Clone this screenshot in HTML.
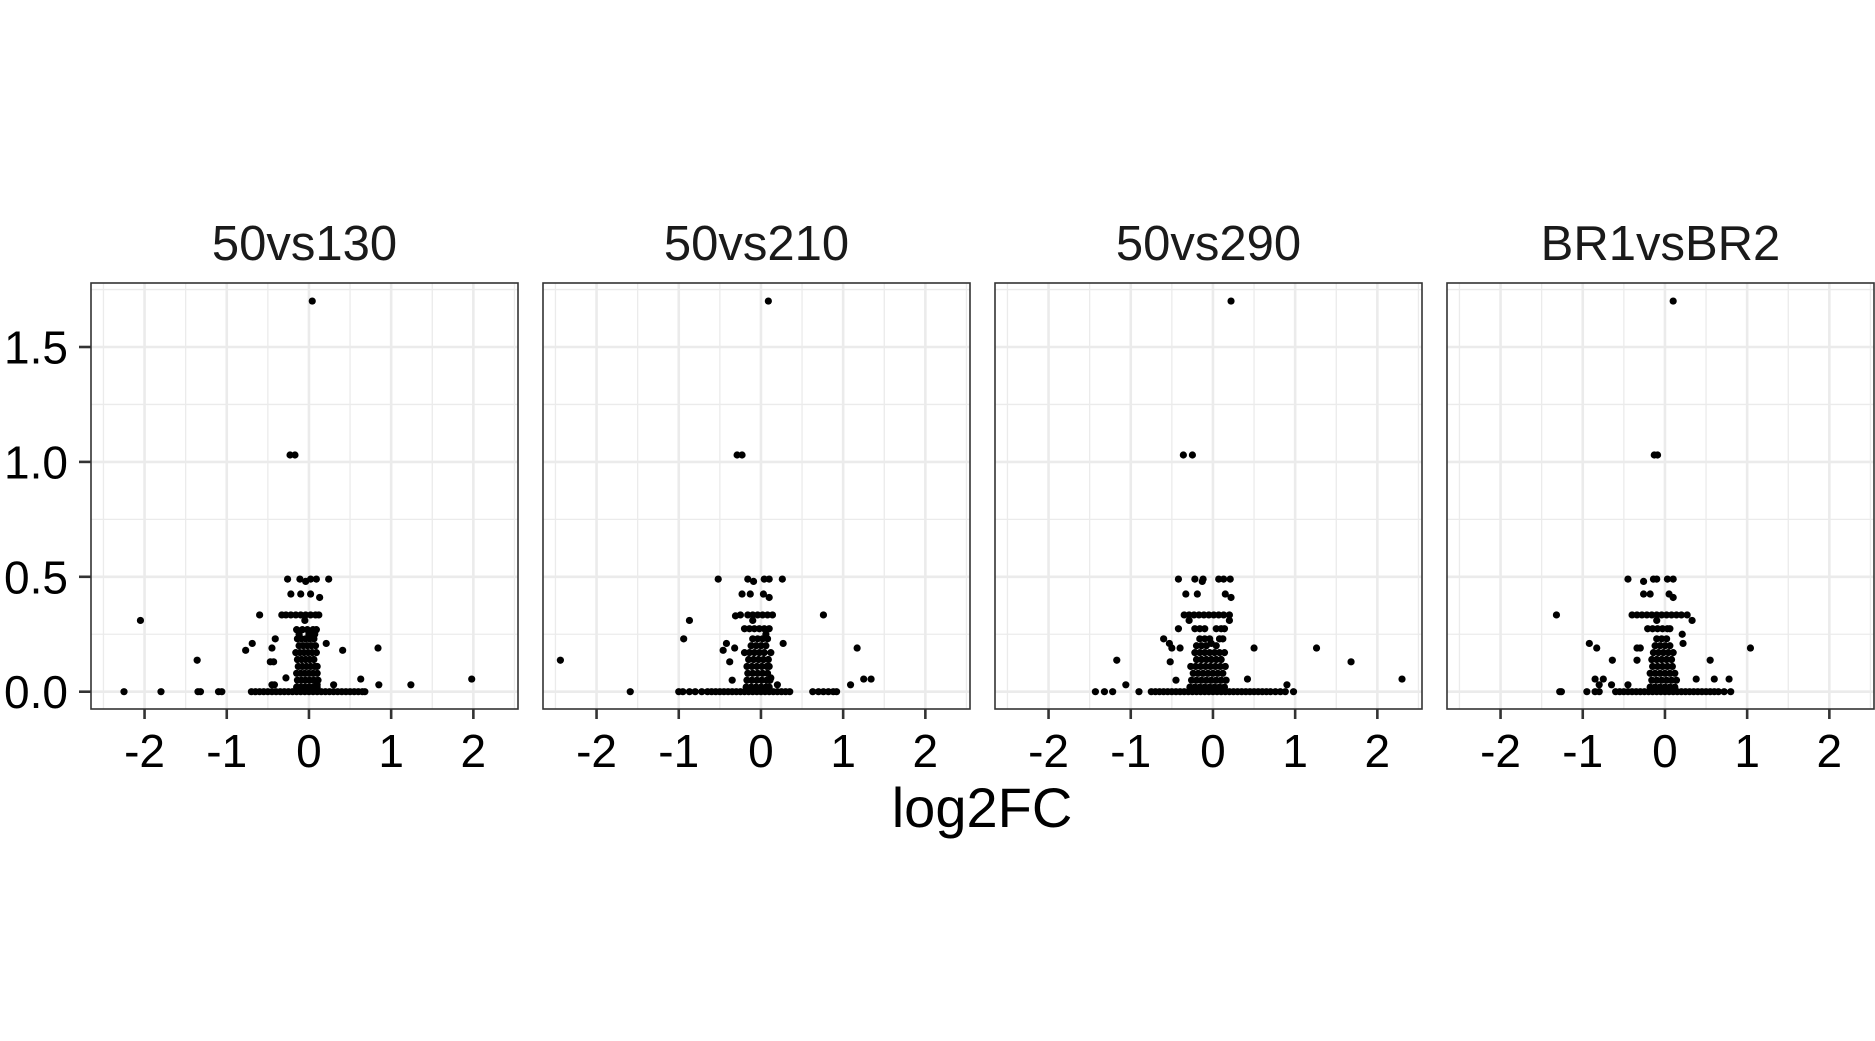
<!DOCTYPE html>
<html><head><meta charset="utf-8"><style>
html,body{margin:0;padding:0;background:#fff;}
svg{display:block;}
text{font-family:"Liberation Sans",Arial,sans-serif;}
</style></head>
<body>
<svg id="chart" width="1875" height="1041" viewBox="0 0 1875 1041" xmlns="http://www.w3.org/2000/svg">
<rect x="0" y="0" width="1875" height="1041" fill="#fff"/>
<text x="982" y="827" font-size="56" text-anchor="middle" fill="#000">log2FC</text>
</svg>
<script>
const facetLabels = ["50vs130","50vs210","50vs290","BR1vsBR2"];
const xTicks = [-2,-1,0,1,2];
const xTickLabels = ["-2","-1","0","1","2"];
const yTicks = [0,0.5,1,1.5];
const yTickLabels = ["0.0","0.5","1.0","1.5"];
const xMinor = [-2.5,-1.5,-0.5,0.5,1.5,2.5];
const yMinor = [0.25,0.75,1.25,1.75];

const pts50vs130 = [
[0.04,1.70],[-0.23,1.03],[-0.17,1.03],
[-0.26,0.49],[-0.11,0.49],[-0.04,0.48],[0.02,0.49],[0.09,0.49],[0.24,0.49],
[-0.22,0.425],[-0.10,0.425],[0.02,0.425],[0.13,0.41],
[-0.60,0.334],[-0.33,0.334],[-0.28,0.334],[-0.22,0.334],[-0.16,0.334],[-0.10,0.334],[-0.04,0.334],[0.02,0.334],[0.08,0.334],[0.12,0.334],[-0.05,0.31],
[-2.05,0.31],
[-0.15,0.27],[-0.08,0.27],[-0.02,0.27],[0.05,0.27],[0.09,0.27],[-0.12,0.25],[0.0,0.25],[0.07,0.25],
[-0.41,0.23],[-0.69,0.21],[-0.77,0.18],[-0.45,0.19],[0.21,0.21],[0.41,0.18],[0.84,0.19],[-1.36,0.137],[-0.43,0.13],[-0.47,0.13],
[-2.25,0],[-1.8,0],[-1.35,0],[-1.32,0],[-1.1,0],[-1.06,0],
[-0.70,0],[-0.65,0],[-0.6,0],[-0.55,0],[-0.5,0],[-0.45,0],[-0.4,0],[-0.35,0],[-0.3,0],[-0.25,0],[-0.2,0],[-0.15,0],[-0.1,0],[-0.05,0],[0,0],[0.05,0],[0.1,0],[0.15,0],[0.2,0],[0.25,0],[0.3,0],[0.35,0],[0.4,0],[0.45,0],[0.5,0],[0.55,0],[0.6,0],[0.65,0],[0.68,0],
[0.63,0.055],[0.85,0.03],[1.24,0.03],[1.98,0.055],[-0.45,0.03],[-0.42,0.03],[-0.28,0.06],[0.1,0.03],[0.3,0.03],
[-0.15,0.02],[-0.1,0.02],[-0.05,0.02],[0,0.02],[0.05,0.02],[0.1,0.02],
[-0.14,0.05],[-0.09,0.05],[-0.04,0.05],[0.01,0.05],[0.06,0.05],[0.11,0.05],
[-0.15,0.08],[-0.1,0.08],[-0.05,0.08],[0,0.08],[0.05,0.08],[0.1,0.08],
[-0.13,0.11],[-0.08,0.11],[-0.03,0.11],[0.02,0.11],[0.07,0.11],[0.1,0.11],
[-0.14,0.14],[-0.09,0.14],[-0.04,0.14],[0.01,0.14],[0.06,0.14],
[-0.16,0.17],[-0.11,0.17],[-0.06,0.17],[-0.01,0.17],[0.04,0.17],[0.09,0.17],
[-0.12,0.20],[-0.07,0.20],[-0.02,0.20],[0.03,0.20],[0.08,0.20],
[-0.14,0.23],[-0.09,0.23],[-0.04,0.23],[0.01,0.23],[0.06,0.23]
];
const pts50vs210 = [
[0.09,1.70],[-0.29,1.03],[-0.23,1.03],
[-0.52,0.49],[-0.16,0.49],[-0.09,0.48],[0.04,0.49],[0.10,0.49],[0.26,0.49],
[-0.23,0.425],[-0.13,0.425],[0.03,0.425],[0.10,0.41],
[-0.31,0.33],[-0.25,0.334],[-0.16,0.334],[-0.10,0.334],[-0.04,0.334],[0.02,0.334],[0.08,0.334],[0.14,0.334],[-0.1,0.31],[0.76,0.334],
[-0.87,0.31],
[-0.2,0.274],[-0.14,0.274],[-0.08,0.274],[-0.02,0.274],[0.04,0.274],[0.1,0.274],[0.06,0.25],
[-0.94,0.23],[-0.42,0.21],[-0.32,0.19],[-0.46,0.18],[0.27,0.21],[1.17,0.19],[-2.44,0.137],[-0.38,0.13],
[-1.59,0],[-1.0,0],[-0.95,0],[-0.87,0],[-0.8,0],
[-0.72,0],[-0.65,0],[-0.6,0],[-0.55,0],[-0.5,0],[-0.45,0],[-0.4,0],[-0.35,0],[-0.3,0],[-0.25,0],[-0.2,0],[-0.15,0],[-0.1,0],[-0.05,0],[0,0],[0.05,0],[0.1,0],[0.15,0],[0.2,0],[0.25,0],[0.3,0],[0.35,0],
[0.63,0],[0.7,0],[0.76,0],[0.82,0],[0.88,0],[0.92,0],
[1.09,0.03],[1.25,0.055],[1.34,0.055],[0.2,0.03],[-0.35,0.05],[0.12,0.06],
[-0.18,0.02],[-0.12,0.02],[-0.06,0.02],[0,0.02],[0.06,0.02],[0.1,0.02],
[-0.17,0.05],[-0.11,0.05],[-0.05,0.05],[0.01,0.05],[0.07,0.05],[0.11,0.05],
[-0.16,0.08],[-0.1,0.08],[-0.04,0.08],[0.02,0.08],[0.08,0.08],
[-0.17,0.11],[-0.11,0.11],[-0.05,0.11],[0.01,0.11],[0.07,0.11],[0.1,0.11],
[-0.15,0.14],[-0.09,0.14],[-0.03,0.14],[0.03,0.14],[0.09,0.14],
[-0.2,0.17],[-0.14,0.17],[-0.08,0.17],[-0.02,0.17],[0.04,0.17],[0.12,0.17],
[-0.12,0.20],[-0.06,0.20],[0,0.20],[0.06,0.20],
[-0.1,0.23],[-0.04,0.23],[0.02,0.23],[0.08,0.23]
];
const pts50vs290 = [
[0.22,1.70],[-0.36,1.03],[-0.25,1.03],
[-0.42,0.49],[-0.22,0.49],[-0.13,0.48],[-0.12,0.49],[0.07,0.49],[0.13,0.49],[0.21,0.49],
[-0.33,0.425],[-0.19,0.425],[0.15,0.425],[0.22,0.41],
[-0.35,0.334],[-0.29,0.334],[-0.23,0.334],[-0.17,0.334],[-0.11,0.334],[-0.05,0.334],[0.01,0.334],[0.07,0.334],[0.13,0.334],[0.2,0.334],[-0.29,0.31],[0.2,0.31],
[-0.42,0.274],[-0.22,0.274],[-0.16,0.274],[-0.1,0.274],[0.04,0.274],[0.1,0.274],[0.14,0.274],
[-0.6,0.23],[0.12,0.23],[-0.53,0.21],[-0.50,0.19],[-0.40,0.19],[0.50,0.19],[1.26,0.19],[-1.17,0.137],[-0.52,0.13],[1.68,0.13],
[-1.43,0],[-1.32,0],[-1.22,0],[-1.06,0.03],[-0.9,0],
[-0.75,0],[-0.7,0],[-0.65,0],[-0.6,0],[-0.55,0],[-0.5,0],[-0.45,0],[-0.4,0],[-0.35,0],[-0.3,0],[-0.25,0],[-0.2,0],[-0.15,0],[-0.1,0],[-0.05,0],[0,0],[0.05,0],[0.1,0],[0.15,0],[0.2,0],[0.25,0],[0.3,0],[0.35,0],[0.4,0],[0.45,0],[0.5,0],[0.55,0],[0.6,0],[0.65,0],
[0.7,0],[0.76,0],[0.82,0],[0.88,0],[0.98,0],[0.9,0.03],[2.3,0.055],[0.42,0.055],[-0.45,0.05],
[-0.28,0.02],[-0.22,0.02],[-0.16,0.02],[-0.1,0.02],[-0.04,0.02],[0.02,0.02],[0.08,0.02],[0.14,0.02],
[-0.26,0.05],[-0.2,0.05],[-0.14,0.05],[-0.08,0.05],[-0.02,0.05],[0.04,0.05],[0.1,0.05],[0.16,0.05],
[-0.24,0.08],[-0.18,0.08],[-0.12,0.08],[-0.06,0.08],[0,0.08],[0.06,0.08],[0.12,0.08],
[-0.27,0.11],[-0.21,0.11],[-0.15,0.11],[-0.09,0.11],[-0.03,0.11],[0.03,0.11],[0.09,0.11],[0.15,0.11],
[-0.2,0.14],[-0.14,0.14],[-0.08,0.14],[-0.02,0.14],[0.04,0.14],[0.1,0.14],
[-0.22,0.17],[-0.16,0.17],[-0.1,0.17],[-0.04,0.17],[0.02,0.17],[0.08,0.17],[0.14,0.17],
[-0.2,0.20],[-0.14,0.20],[-0.08,0.20],[-0.02,0.21],[0.04,0.20],
[-0.16,0.23],[-0.1,0.23],[-0.04,0.23],[0.08,0.23]
];
const ptsBR1vsBR2 = [
[0.10,1.70],[-0.13,1.03],[-0.09,1.03],
[-0.45,0.49],[-0.26,0.48],[-0.14,0.49],[-0.10,0.49],[0.03,0.49],[0.10,0.49],
[-0.26,0.425],[-0.18,0.425],[0.05,0.425],[0.10,0.41],
[-1.32,0.334],[-0.40,0.334],[-0.34,0.334],[-0.28,0.334],[-0.22,0.334],[-0.16,0.334],[-0.1,0.334],[-0.04,0.334],[0.02,0.334],[0.08,0.334],[0.14,0.334],[0.2,0.334],[0.27,0.334],[-0.1,0.31],[0.33,0.31],
[-0.21,0.274],[-0.15,0.274],[-0.09,0.274],[-0.03,0.274],[0.03,0.274],[0.06,0.274],[0.21,0.25],
[-0.92,0.21],[-0.83,0.19],[-0.34,0.19],[-0.30,0.19],[0.22,0.21],[1.04,0.19],
[-0.64,0.137],[-0.34,0.137],[0.55,0.137],
[-1.28,0],[-1.26,0],[-0.95,0],[-0.85,0],[-0.8,0],
[-0.6,0],[-0.55,0],[-0.5,0],[-0.45,0],[-0.4,0],[-0.35,0],[-0.3,0],[-0.25,0],[-0.2,0],[-0.15,0],[-0.1,0],[-0.05,0],[0,0],[0.05,0],[0.1,0],[0.15,0],[0.2,0],[0.25,0],[0.3,0],[0.35,0],[0.4,0],[0.45,0],[0.5,0],[0.55,0],[0.6,0],
[0.65,0],[0.72,0],[0.8,0],
[-0.85,0.055],[-0.75,0.055],[-0.65,0.03],[-0.8,0.03],[0.38,0.055],[0.6,0.055],[0.78,0.055],[-0.45,0.03],
[-0.18,0.02],[-0.12,0.02],[-0.06,0.02],[0,0.02],[0.06,0.02],[0.12,0.02],
[-0.16,0.05],[-0.1,0.05],[-0.04,0.05],[0.02,0.05],[0.08,0.05],[0.14,0.05],
[-0.18,0.08],[-0.12,0.08],[-0.06,0.08],[0,0.08],[0.06,0.08],[0.12,0.08],
[-0.15,0.11],[-0.09,0.11],[-0.03,0.11],[0.03,0.11],[0.09,0.11],
[-0.16,0.14],[-0.1,0.14],[-0.04,0.14],[0.02,0.14],[0.08,0.14],
[-0.14,0.17],[-0.08,0.17],[-0.02,0.17],[0.04,0.17],[0.1,0.17],
[-0.12,0.20],[-0.06,0.20],[0,0.20],[0.06,0.20],
[-0.1,0.23],[-0.04,0.23],[0.02,0.23]
];
const facetData = [pts50vs130, pts50vs210, pts50vs290, ptsBR1vsBR2];

const NS = "http://www.w3.org/2000/svg";
const svg = document.getElementById("chart");
const panelW = 427, panelGap = 25, panelLeft0 = 91, panelTop = 283, panelBottom = 709;
const xDomain = [-2.6515, 2.5431];
const yDomain = [-0.0753, 1.7785];
function xScale(i, v){ const l = panelLeft0 + i*(panelW+panelGap); return l + (v - xDomain[0])/(xDomain[1]-xDomain[0])*panelW; }
function yScale(v){ return panelBottom - (v - yDomain[0])/(yDomain[1]-yDomain[0])*(panelBottom-panelTop); }
function mk(tag, attrs, parent){ const e = document.createElementNS(NS, tag); for (const k in attrs) e.setAttribute(k, attrs[k]); (parent||svg).appendChild(e); return e; }

facetLabels.forEach((lab, i) => {
  const left = panelLeft0 + i*(panelW+panelGap);
  const g = mk("g", {});
  
  
  const bg = mk("rect", {x:left, y:panelTop, width:panelW, height:panelBottom-panelTop, fill:"#fff"}, g);
  
  
  xMinor.forEach(v => {
    const ln = mk("line", {x1:xScale(i,v), x2:xScale(i,v), y1:panelTop, y2:panelBottom, stroke:"#ebebeb", "stroke-width":1.3}, g);
    
    
  });
  yMinor.forEach(v => {
    const ln = mk("line", {x1:left, x2:left+panelW, y1:yScale(v), y2:yScale(v), stroke:"#ebebeb", "stroke-width":1.3}, g);
    
    
  });
  xTicks.forEach(v => {
    const ln = mk("line", {x1:xScale(i,v), x2:xScale(i,v), y1:panelTop, y2:panelBottom, stroke:"#ebebeb", "stroke-width":2.6}, g);
    
    
  });
  yTicks.forEach(v => {
    const ln = mk("line", {x1:left, x2:left+panelW, y1:yScale(v), y2:yScale(v), stroke:"#ebebeb", "stroke-width":2.6}, g);
    
    
  });
  facetData[i].forEach(p => {
    const c = mk("circle", {cx:xScale(i,p[0]), cy:yScale(p[1]), r:3.6, fill:"#000"}, g);
    
    
  });
  const border = mk("rect", {x:left, y:panelTop, width:panelW, height:panelBottom-panelTop, fill:"none", stroke:"#333", "stroke-width":1.6}, g);
  
  
  const t = mk("text", {x:left+panelW/2, y:260, "font-size":49, "text-anchor":"middle", fill:"#1a1a1a"}, g);
  t.textContent = lab;
  
  
  xTicks.forEach((v, k) => {
    const tk = mk("line", {x1:xScale(i,v), x2:xScale(i,v), y1:panelBottom, y2:panelBottom+10, stroke:"#333", "stroke-width":2.6}, g);
    
    
    const tl = mk("text", {x:xScale(i,v), y:767, "font-size":46, "text-anchor":"middle", fill:"#000"}, g);
    tl.textContent = xTickLabels[k];
    
    
  });
});
yTicks.forEach((v, k) => {
  const tk = mk("line", {x1:79, x2:91, y1:yScale(v), y2:yScale(v), stroke:"#333", "stroke-width":2.6});
  
  
  const tl = mk("text", {x:68, y:yScale(v)+16.5, "font-size":46, "text-anchor":"end", fill:"#000"});
  tl.textContent = yTickLabels[k];
  
  
});
</script>
</body></html>
